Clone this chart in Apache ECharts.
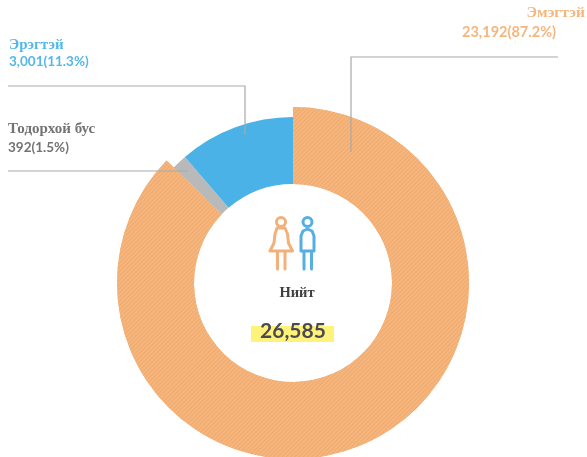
<!DOCTYPE html>
<html><head><meta charset="utf-8">
<style>html,body{margin:0;padding:0;background:#fff}#c{width:587px;height:457px}</style>
<script src="https://cdn.jsdelivr.net/npm/echarts@6/dist/echarts.min.js"></script>
</head><body><div id="c"></div>
<script>
const categories = ['Эмэгтэй', 'Тодорхой бус', 'Эрэгтэй'];
const values = [23192, 392, 3001];
const valueLabels = ['23,192(87.2%)', '392(1.5%)', '3,001(11.3%)'];
const totalLabel = 'Нийт';
const totalValue = '26,585';
const ORANGE = '#f5b67e', GRAY = '#b9b9b9', BLUE = '#4ab2e6', LINE = '#a9a9a9';
const serif = '"Liberation Serif", serif', sans = 'Lato, sans-serif';
const none = {color: 'transparent'};
const chart = echarts.init(document.getElementById('c'), null, {renderer: 'canvas'});
const common = {type: 'pie', center: [293, 283], startAngle: 90, clockwise: true, silent: true,
  label: {show: false}, labelLine: {show: false}, animation: false};
function txt(x, y, text, color, font, size, align) {
  return {type: 'text', x, y, z: 20, style: {text, fill: color, fontFamily: font, fontSize: size,
    fontWeight: 'bold', textAlign: align || 'left', textVerticalAlign: 'middle'}};
}
function line(points, color) {
  return {type: 'polyline', z: 15, shape: {points}, style: {stroke: color || LINE, lineWidth: 1.2, fill: null}};
}
const stroke = c => ({stroke: c, lineWidth: 3, fill: null, lineCap: 'round', lineJoin: 'round'});
const icon = (type, shape, c) => ({type, z: 16, shape, style: stroke(c)});
const W = '#f2b07a', M = '#55b0e0';
chart.setOption({
  animation: false,
  series: [
    Object.assign({}, common, {radius: [99, 176], z: 2, data: [
      {name: categories[0], value: values[0], itemStyle: {color: ORANGE,
        decal: {symbol: 'rect', color: 'rgba(232,150,85,0.4)', backgroundColor: ORANGE,
          dashArrayX: [1, 0], dashArrayY: [1, 2], rotation: -Math.PI / 4}}},
      {name: categories[1], value: values[1], itemStyle: none},
      {name: categories[2], value: values[2], itemStyle: none}]}),
    Object.assign({}, common, {radius: [99, 166], z: 3, data: [
      {name: categories[0], value: values[0], itemStyle: none},
      {name: categories[1], value: values[1], itemStyle: {color: GRAY}},
      {name: categories[2], value: values[2], itemStyle: {color: BLUE}}]})
  ],
  graphic: {elements: [
    line([[351, 152], [351, 57], [558, 57]]),
    line([[245, 135], [245, 86], [8, 86]]),
    line([[188, 171], [8, 171]]),
    txt(585, 13, categories[0], ORANGE, serif, 15.5, 'right'),
    txt(556, 32, valueLabels[0], ORANGE, sans, 14.5, 'right'),
    txt(9, 45, categories[2], '#55b7ea', serif, 15),
    txt(9, 62, valueLabels[2], '#55b7ea', sans, 13.5),
    txt(8, 129, categories[1], '#737373', serif, 15),
    txt(8, 148, valueLabels[1], '#737373', sans, 13.5),
    {type: 'rect', z: 14, shape: {x: 251, y: 326, width: 83, height: 16}, style: {fill: '#fff27a'}},
    txt(293, 331, totalValue, '#4a4a52', sans, 21, 'center'),
    txt(297, 293, totalLabel, '#3f3f3f', serif, 14.5, 'center'),
    icon('circle', {cx: 281, cy: 222, r: 4.5}, W),
    icon('polygon', {points: [[277, 228], [285, 228], [287.5, 234], [288.5, 243], [292.5, 251], [270, 251], [274, 243], [275, 234]]}, W),
    icon('line', {x1: 277.5, y1: 252, x2: 277.5, y2: 269}, W),
    icon('line', {x1: 285, y1: 252, x2: 285, y2: 269}, W),
    icon('circle', {cx: 307.5, cy: 222, r: 4.5}, M),
    icon('polygon', {points: [[301, 251], [301, 236], [303, 231], [307.5, 229], [312, 231], [314, 236], [314, 251]]}, M),
    icon('line', {x1: 304, y1: 252, x2: 304, y2: 269}, M),
    icon('line', {x1: 311.5, y1: 252, x2: 311.5, y2: 269}, M)
  ]}
});
</script></body></html>
